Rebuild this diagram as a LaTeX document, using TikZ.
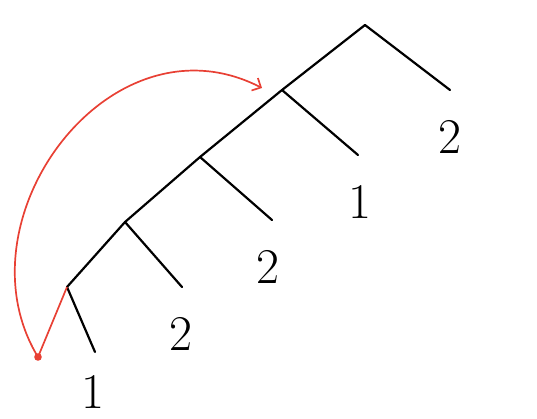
\documentclass[tikz,border=0pt]{standalone}
\usetikzlibrary{arrows.meta}
\definecolor{redline}{RGB}{232,64,52}
\tikzset{
  edge/.style={line width=2.2pt, line cap=round, line join=round, black},
  lbl/.style={font=\fontsize{50}{50}\selectfont, inner sep=0pt},
  redl/.style={line width=1.7pt, redline}
}
\begin{document}
\begin{tikzpicture}[x=1pt,y=-1pt]
\useasboundingbox (0,0) rectangle (537,418);
\coordinate (s1) at (67,287);
\coordinate (s2) at (125,222);
\coordinate (s3) at (200,157);
\coordinate (s4) at (282,90);
\coordinate (s5) at (365,25);
\coordinate (l1) at (95,352);
\coordinate (l2) at (182,287);
\coordinate (l3) at (272,220);
\coordinate (l4) at (358,155);
\coordinate (l5) at (450,90);
\draw[edge] (s1) -- (s2) -- (s3) -- (s4) -- (s5) -- (l5);
\draw[edge] (s1) -- (l1);
\draw[edge] (s2) -- (l2);
\draw[edge] (s3) -- (l3);
\draw[edge] (s4) -- (l4);
\node[lbl] (t1) at (93,392) {1};
\node[lbl] (t2) at (181,334) {2};
\node[lbl] (t3) at (268,267) {2};
\node[lbl] (t4) at (360,202) {1};
\node[lbl] (t5) at (450,137) {2};
\coordinate (dot) at (38,357);
\coordinate (tip) at (262,88);
\fill[redline] (dot) circle (3.8pt);
\draw[redl] (dot) -- (s1);
\draw[redl, -{Straight Barb[length=7pt,width=14pt]}] (dot) .. controls (-45,220) and (110,10) .. (tip);
\end{tikzpicture}
\end{document}
